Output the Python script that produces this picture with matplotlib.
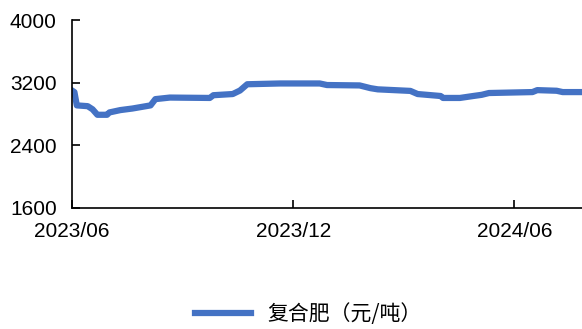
import matplotlib
matplotlib.use("Agg")
import matplotlib.pyplot as plt
import matplotlib.dates as mdates
import pandas as pd

plt.rcParams['font.family'] = ['Liberation Sans', 'Noto Sans CJK SC', 'DejaVu Sans']

# price of compound fertilizer (yuan/ton)
dates = ['2023-06-01', '2023-06-03', '2023-06-05', '2023-06-14', '2023-06-18',
         '2023-06-22', '2023-06-30', '2023-07-02', '2023-07-11', '2023-07-21',
         '2023-08-05', '2023-08-09', '2023-08-21', '2023-09-23', '2023-09-26',
         '2023-10-12', '2023-10-18', '2023-10-24', '2023-11-20', '2023-12-23',
         '2023-12-29', '2024-01-25', '2024-02-03', '2024-02-09', '2024-03-07',
         '2024-03-13', '2024-04-01', '2024-04-03', '2024-04-17', '2024-04-28',
         '2024-05-05', '2024-05-11', '2024-06-16', '2024-06-20', '2024-07-06',
         '2024-07-11', '2024-07-27']
prices = [3100, 3080, 2910, 2900, 2860,
          2790, 2790, 2820, 2850, 2870,
          2910, 2990, 3010, 3005, 3040,
          3055, 3100, 3180, 3190, 3190,
          3170, 3165, 3130, 3115, 3095,
          3055, 3030, 3005, 3005, 3030,
          3045, 3068, 3080, 3105, 3097,
          3080, 3080]
series_label = '复合肥（元/吨）'
xticks = ['2023-06-01', '2023-12-01', '2024-06-01']
yticks = [1600, 2400, 3200, 4000]

x = pd.to_datetime(dates)

fig = plt.figure(figsize=(5.82, 3.29), dpi=100)
ax = fig.add_axes([0.1237, 0.368, 0.8763, 0.571])
ax.plot(x, prices, color='#4472C4', linewidth=4.5, solid_joinstyle='round',
        label=series_label)

ax.set_ylim(1600, 4000)
ax.set_yticks(yticks)
ax.set_xlim(pd.Timestamp('2023-06-01'), pd.Timestamp('2024-07-27'))
ax.set_xticks(pd.to_datetime(xticks))
ax.xaxis.set_major_formatter(mdates.DateFormatter('%Y/%m'))

for s in ['top', 'right']:
    ax.spines[s].set_visible(False)
ax.spines['left'].set_linewidth(1.2)
ax.spines['bottom'].set_linewidth(1.2)
ax.tick_params(direction='in', length=6, width=1.2, labelsize=15)
ax.tick_params(axis='y', pad=11)
ax.tick_params(axis='x', pad=10)
for lab in ax.get_xticklabels():
    lab.set_clip_on(False)

fig.legend(loc='center', bbox_to_anchor=(0.53, 0.045), frameon=False,
           handlelength=2.7, borderpad=0.2,
           prop={'family': ['Noto Sans CJK SC', 'DejaVu Sans'], 'size': 15})

fig.savefig('out.png', dpi=100)
